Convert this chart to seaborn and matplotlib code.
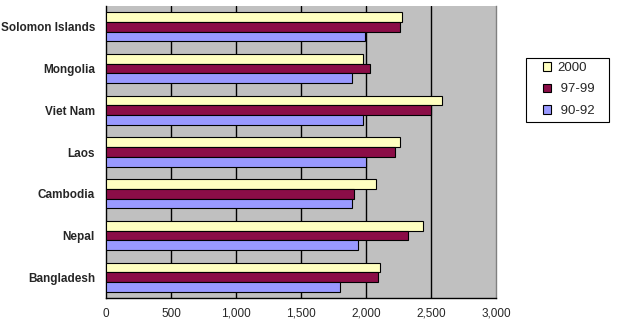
import matplotlib
matplotlib.use("Agg")
import matplotlib.pyplot as plt
from matplotlib.ticker import FuncFormatter, FixedLocator
from matplotlib.patches import Patch, Rectangle
import seaborn as sns
import pandas as pd

countries = ["Solomon Islands", "Mongolia", "Viet Nam", "Laos", "Cambodia", "Nepal", "Bangladesh"]
periods = ["2000", "97-99", "90-92"]
legend_labels = ["2000", " 97-99", " 90-92"]
values_2000 = [2280, 1980, 2585, 2265, 2080, 2440, 2110]
values_97_99 = [2265, 2030, 2500, 2220, 1910, 2320, 2095]
values_90_92 = [1990, 1890, 1980, 2000, 1890, 1935, 1800]
xticks = [0, 500, 1000, 1500, 2000, 2500, 3000]

colors = {"2000": "#FFFFC0", "97-99": "#8B0D47", "90-92": "#9999FF"}

rows = []
for period, vals in zip(periods, [values_2000, values_97_99, values_90_92]):
    for c, v in zip(countries, vals):
        rows.append({"country": c, "period": period, "value": v})
df = pd.DataFrame(rows)

sns.set_style("white")
plt.rcParams["font.family"] = ["Liberation Sans", "DejaVu Sans"]

fig = plt.figure(figsize=(6.19, 3.27), dpi=100)
W, H = 619, 327
ax = fig.add_axes([106 / W, (H - 298) / H, (496 - 106) / W, (298 - 6) / H])
ax.set_facecolor("#C0C0C0")

sns.barplot(data=df, y="country", x="value", hue="period", order=countries,
            hue_order=periods, palette=colors, orient="h", width=0.7,
            edgecolor="black", linewidth=0.8, saturation=1, ax=ax, zorder=3)

ax.set_xlim(0, 3000)
ax.set_ylim(len(countries) - 0.5, -0.5)
ax.set_xticks(xticks)
ax.xaxis.set_major_formatter(FuncFormatter(lambda v, p: f"{int(v):,}"))
for x in xticks[1:-1]:
    ax.axvline(x, color="black", linewidth=1.0, zorder=1)

ax.set_xlabel("")
ax.set_ylabel("")
ax.tick_params(axis="x", length=4, width=0.8, color="black", labelsize=8.5, pad=3, direction="out")
ax.tick_params(axis="y", which="major", length=0, labelsize=8.5, pad=8)
ax.yaxis.set_minor_locator(FixedLocator([i - 0.5 for i in range(len(countries) + 1)]))
ax.tick_params(axis="y", which="minor", length=4, width=0.8, color="black", direction="out")
for lbl in ax.get_yticklabels():
    lbl.set_fontweight("bold")

for side in ["left", "bottom"]:
    ax.spines[side].set_color("black")
    ax.spines[side].set_linewidth(1.0)
ax.spines["right"].set_color("#808080")
ax.spines["right"].set_linewidth(1.0)
ax.spines["top"].set_visible(False)

# Legend: entries without frame, plus a plain box drawn around them
ax.get_legend().remove()
legend_handles = [Patch(facecolor=colors[p], edgecolor="black", linewidth=0.8, label=lab)
                  for p, lab in zip(periods, legend_labels)]
fig.legend(handles=legend_handles, loc="upper left",
           bbox_to_anchor=(543 / W, 1 - 62 / H), frameon=False,
           fontsize=9.5, handlelength=0.6, handleheight=0.6,
           handletextpad=0.45, labelspacing=0.72, borderpad=0, borderaxespad=0)
fig.patches.append(Rectangle((525.5 / W, 1 - 122.3 / H), (609 - 525.5) / W, (122.3 - 57.7) / H,
                             transform=fig.transFigure, facecolor="none",
                             edgecolor="black", linewidth=0.8))

fig.savefig("out.png", dpi=100, facecolor="white")
